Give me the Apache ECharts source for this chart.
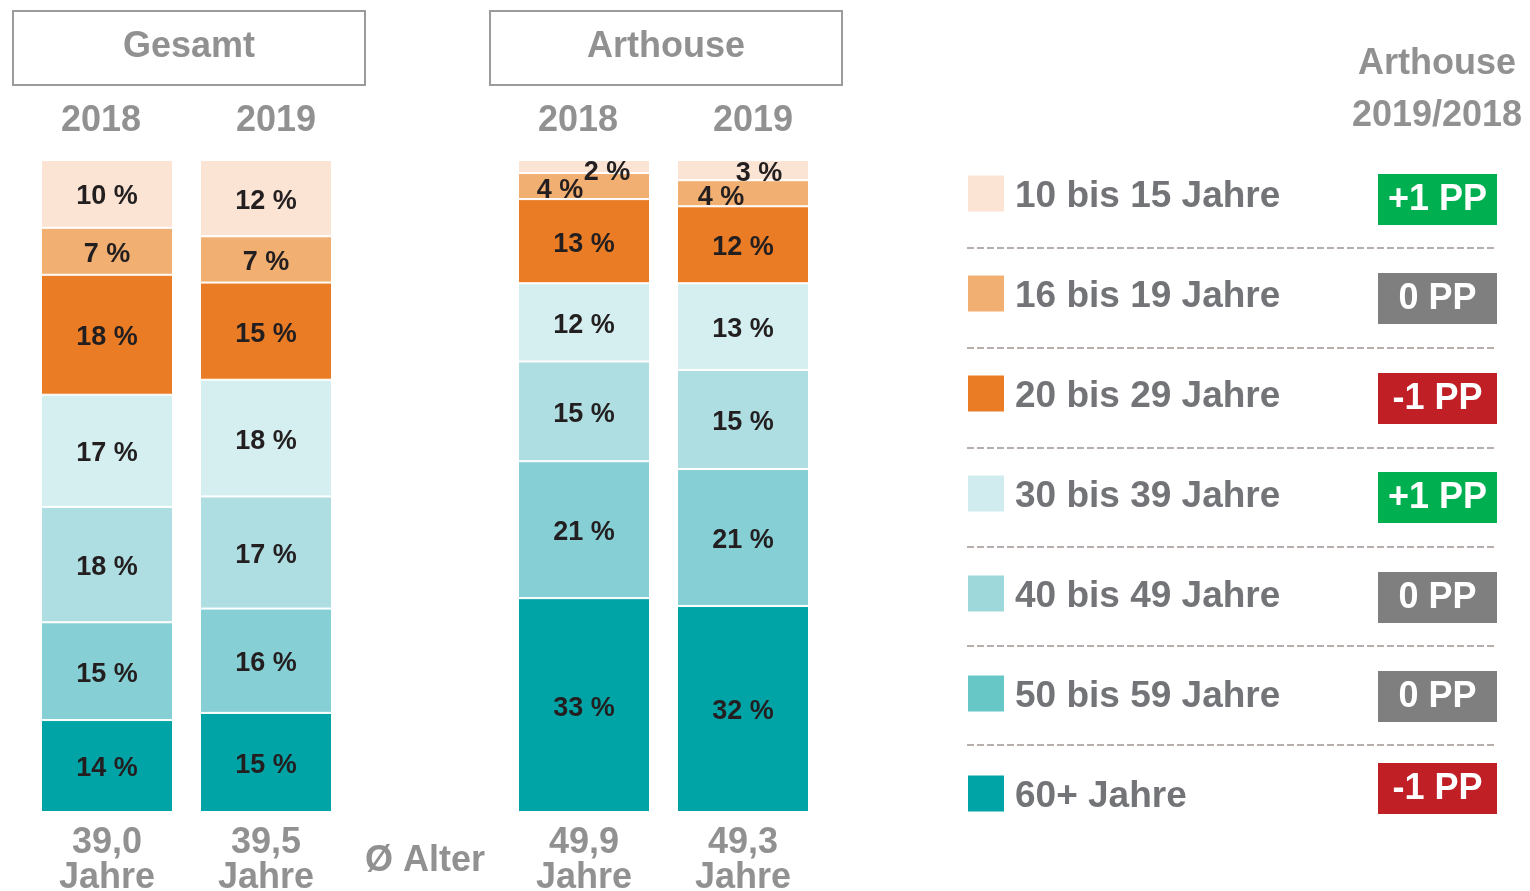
<!DOCTYPE html>
<html>
<head>
<meta charset="utf-8">
<script src="https://cdn.jsdelivr.net/npm/echarts@6/dist/echarts.min.js"></script>
<style>
  html, body { margin: 0; padding: 0; background: #fff; }
  #main { width: 1530px; height: 891px; }
</style>
</head>
<body>
<div id="main"></div>
<script>
// Kategorien (mittlere Spalte ist die Lücke zwischen Gesamt und Arthouse)
const years = ['2018', '2019', '', '2018', '2019']
const avgAge = ['39,0\nJahre', '39,5\nJahre', 'Ø Alter', '49,9\nJahre', '49,3\nJahre']

const ageGroups = ['10 bis 15 Jahre', '16 bis 19 Jahre', '20 bis 29 Jahre', '30 bis 39 Jahre',
    '40 bis 49 Jahre', '50 bis 59 Jahre', '60+ Jahre']

// Anteile in % (Gesamt 2018, Gesamt 2019, -, Arthouse 2018, Arthouse 2019)
const share_10_15 = [10.4, 11.7, '-', 2.0, 3.1]
const share_16_19 = [7.2, 7.1, '-', 4.0, 4.0]
const share_20_29 = [18.4, 14.9, '-', 12.9, 11.8]
const share_30_39 = [17.2, 17.9, '-', 12.0, 13.3]
const share_40_49 = [17.7, 17.2, '-', 15.3, 15.2]
const share_50_59 = [15.0, 16.0, '-', 21.0, 21.0]
const share_60plus = [14.1, 15.2, '-', 32.8, 31.6]

// Veränderung Arthouse 2019/2018 in Prozentpunkten
const ppChange = [1, 0, -1, 1, 0, 0, -1]

const barColors = ['#FBE4D3', '#F2AF72', '#EA7C25', '#D5EFF0', '#AEDEE2', '#86D0D5', '#00A4A6']
const legendColors = ['#FBE4D3', '#F2AF72', '#EA7C25', '#D0ECEE', '#9FD8DA', '#66C7C6', '#00A4A6']

const grey = '#919191'
const font = "'Liberation Sans', Arial, sans-serif"

// kleine Segmente oben bei Arthouse: Label seitlich versetzt
const labelOffsets = {
    0: {3: [23, 6], 4: [16, 3]},
    1: {3: [-24, 4], 4: [-22, 4]}
}
// Jahreszahlen oben sind leicht verschoben
const yearPadding = [[0, 12, 0, 0], [0, 0, 0, 20], [0, 0, 0, 0], [0, 12, 0, 0], [0, 0, 0, 20]]

const stacks = [share_10_15, share_16_19, share_20_29, share_30_39, share_40_49, share_50_59, share_60plus]

// von unten nach oben stapeln: 60+ zuerst; obere Segmente liegen oben (z)
const series = stacks.map((values, i) => ({
    name: ageGroups[i],
    type: 'bar',
    stack: 'total',
    barWidth: 132,
    z: 20 - i,
    itemStyle: { color: barColors[i], borderColor: '#fff', borderWidth: 1 },
    label: {
        show: true,
        position: 'inside',
        offset: [0, 3],
        fontFamily: font,
        fontWeight: 'bold',
        fontSize: 27,
        color: '#231F20',
        formatter: p => Math.round(p.value) + ' %'
    },
    data: values.map((v, j) => {
        const off = labelOffsets[i] && labelOffsets[i][j]
        if (off) return { value: v, label: { offset: off } }
        return v
    })
})).reverse()

const graphics = []

// Kopf-Boxen
const boxes = [['Gesamt', 13], ['Arthouse', 490]]
boxes.forEach(([txt, x]) => {
    graphics.push({
        type: 'rect',
        shape: { x: x, y: 11, width: 352, height: 74 },
        style: { fill: '#fff', stroke: '#9B9B9B', lineWidth: 2 }
    })
    graphics.push({
        type: 'text',
        x: x + 176, y: 47,
        style: { text: txt, fontFamily: font, fontWeight: 'bold', fontSize: 36, fill: grey,
            textAlign: 'center', textVerticalAlign: 'middle' }
    })
})

graphics.push({
    type: 'text',
    x: 1437, y: 90,
    style: { text: 'Arthouse\n2019/2018', fontFamily: font, fontWeight: 'bold', fontSize: 36,
        lineHeight: 52, fill: grey, textAlign: 'center', textVerticalAlign: 'middle' }
})

// PP-Kästchen und gestrichelte Trennlinien
const badgeY = [199, 298, 398, 497, 597, 696, 788]
const lineY = [248, 348, 448, 547, 646, 745]
ppChange.forEach((d, i) => {
    const col = d > 0 ? '#00AF50' : (d < 0 ? '#C01F26' : '#7F7F80')
    const txt = (d > 0 ? '+' : '') + d + ' PP'
    graphics.push({
        type: 'rect',
        shape: { x: 1378, y: badgeY[i] - 25, width: 119, height: 51 },
        style: { fill: col }
    })
    graphics.push({
        type: 'text',
        x: 1437.5, y: badgeY[i] + 1,
        style: { text: txt, fontFamily: font, fontWeight: 'bold', fontSize: 36, fill: '#fff',
            textAlign: 'center', textVerticalAlign: 'middle' }
    })
})
lineY.forEach(y => {
    graphics.push({
        type: 'line',
        shape: { x1: 967, y1: y, x2: 1497, y2: y },
        style: { stroke: '#9E9590', lineWidth: 1.5, lineDash: [7, 3] }
    })
})

var option = {
    animation: false,
    backgroundColor: '#fff',
    grid: { left: 27.5, width: 795, top: 160, height: 652, outerBoundsMode: 'none', containLabel: false },
    legend: {
        orient: 'vertical',
        left: 966,
        top: 172,
        padding: 0,
        itemWidth: 38,
        itemHeight: 38,
        itemGap: 57,
        icon: 'rect',
        selectedMode: false,
        formatter: name => '{t|' + name + '}',
        textStyle: {
            fontFamily: font, fontWeight: 'bold', fontSize: 37, color: '#737477',
            rich: {
                t: { fontFamily: font, fontWeight: 'bold', fontSize: 37, color: '#737477',
                    lineHeight: 38, padding: [6, 0, 0, 5] }
            }
        },
        data: ageGroups.map((n, i) => ({ name: n, itemStyle: { color: legendColors[i] } }))
    },
    xAxis: [
        {
            type: 'category',
            position: 'top',
            data: years.map((v, i) => ({ value: v, textStyle: { padding: yearPadding[i] } })),
            axisLine: { show: false },
            axisTick: { show: false },
            axisLabel: { fontFamily: font, fontWeight: 'bold', fontSize: 36, color: grey, margin: 21 }
        },
        {
            type: 'category',
            position: 'bottom',
            data: avgAge.map(v => v === 'Ø Alter'
                ? { value: v, textStyle: { padding: [18, 0, 0, 0] } }
                : v),
            axisLine: { show: false },
            axisTick: { show: false },
            axisLabel: { fontFamily: font, fontWeight: 'bold', fontSize: 36, lineHeight: 35,
                color: grey, margin: 14, interval: 0 }
        }
    ],
    yAxis: { type: 'value', min: 0, max: 100, show: false },
    graphic: graphics,
    series: series
}

var myChart = echarts.init(document.getElementById('main'))
myChart.setOption(option)
</script>
</body>
</html>
